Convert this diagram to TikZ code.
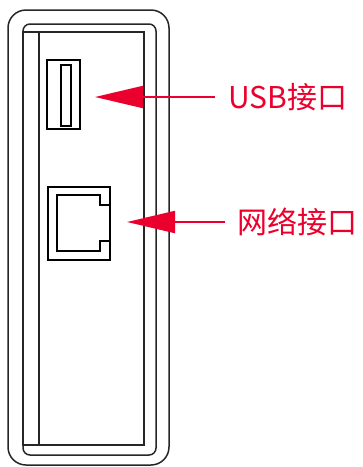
\documentclass[tikz,border=0pt]{standalone}
\usepackage{fontspec}
\newfontfamily\cjk{Noto Sans CJK SC}
\usetikzlibrary{arrows.meta}
\definecolor{callout}{RGB}{235,0,45}
\begin{document}
\begin{tikzpicture}[x=1pt,y=-1pt,
  casing/.style={draw=black!85, line width=1.5pt},
  port/.style={draw=black, line width=1.3pt},
  pointer/.style={draw=callout, line width=2pt, -{Triangle[length=48pt,width=22pt]}},
  tag/.style={text=callout, font=\cjk\fontsize{30pt}{33pt}\selectfont, anchor=west, inner sep=0pt}]
\useasboundingbox (0,0) rectangle (363,467);
% housing outline, bezel and front panel
\draw[casing, rounded corners=18pt] (8,10) rectangle (169,465);
\draw[casing, rounded corners=7pt] (23,24) rectangle (156,455);
\draw[casing] (23,32) rectangle (144,445);
\draw[casing] (39,32) -- (39,445);
% USB socket
\draw[port] (47,60) rectangle (80,129);
\draw[port] (61,65) rectangle (71,126);
% RJ45 socket
\draw[port] (48,187) rectangle (110,260);
\draw[port] (110,205) -- (100,205) -- (100,195) -- (57,195) -- (57,251) -- (100,251) -- (100,241) -- (110,241);
% labels and pointers
\node[tag] (usb) at (228,97) {USB接口};
\node[tag] (lan) at (237,222) {网络接口};
\coordinate (usbtip) at (95,97);
\coordinate (lantip) at (127,222);
\draw[pointer] ([xshift=-13pt]usb.west) -- (usbtip);
\draw[pointer] ([xshift=-12pt]lan.west) -- (lantip);
\end{tikzpicture}
\end{document}
